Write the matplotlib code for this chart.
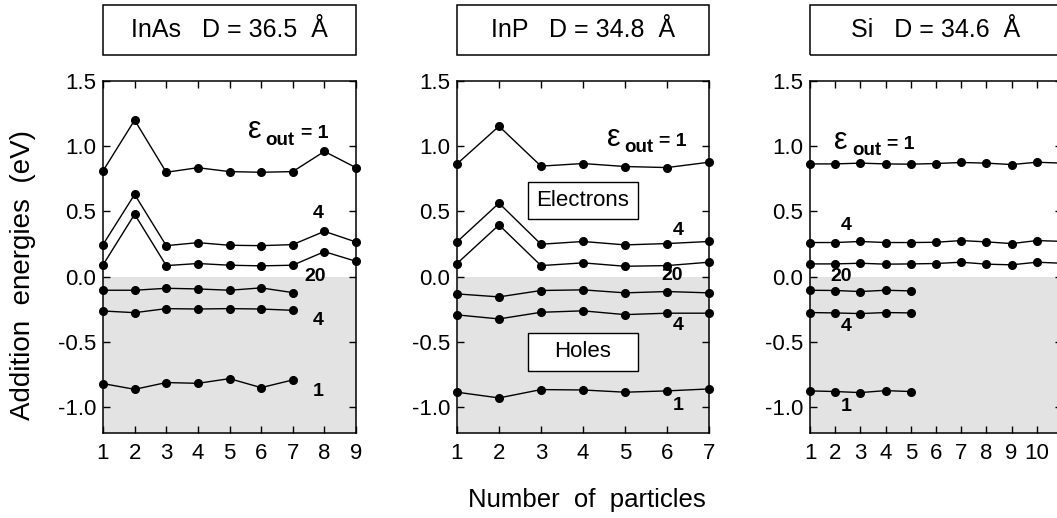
import numpy as np
import matplotlib
matplotlib.use("Agg")
import matplotlib.pyplot as plt
from matplotlib.patches import Rectangle

plt.rcParams['font.family'] = ['Liberation Sans', 'DejaVu Sans']
plt.rcParams['axes.unicode_minus'] = False

# ── data (addition energies, eV) ──────────────────────────────────────────────
inas_n_e = [1, 2, 3, 4, 5, 6, 7, 8, 9]
inas_e1 = [0.81, 1.20, 0.80, 0.835, 0.805, 0.80, 0.805, 0.96, 0.835]
inas_e4 = [0.245, 0.63, 0.237, 0.26, 0.24, 0.237, 0.245, 0.347, 0.265]
inas_e20 = [0.089, 0.478, 0.084, 0.10, 0.087, 0.082, 0.087, 0.191, 0.117]
inas_n_h = [1, 2, 3, 4, 5, 6, 7]
inas_h20 = [-0.105, -0.105, -0.09, -0.095, -0.105, -0.087, -0.123]
inas_h4 = [-0.264, -0.277, -0.246, -0.249, -0.246, -0.249, -0.259]
inas_h1 = [-0.821, -0.865, -0.813, -0.819, -0.783, -0.852, -0.793]

inp_n_e = [1, 2, 3, 4, 5, 6, 7]
inp_e1 = [0.864, 1.153, 0.847, 0.867, 0.844, 0.836, 0.877]
inp_e4 = [0.266, 0.563, 0.248, 0.269, 0.243, 0.253, 0.269]
inp_e20 = [0.10, 0.396, 0.084, 0.105, 0.079, 0.084, 0.11]
inp_n_h = [1, 2, 3, 4, 5, 6, 7]
inp_h20 = [-0.133, -0.156, -0.107, -0.102, -0.125, -0.115, -0.125]
inp_h4 = [-0.294, -0.325, -0.274, -0.263, -0.292, -0.281, -0.281]
inp_h1 = [-0.887, -0.931, -0.867, -0.870, -0.887, -0.877, -0.862]

si_n_e = [1, 2, 3, 4, 5, 6, 7, 8, 9, 10, 11]
si_e1 = [0.864, 0.864, 0.870, 0.864, 0.862, 0.867, 0.875, 0.870, 0.859, 0.877, 0.87]
si_e4 = [0.261, 0.261, 0.269, 0.261, 0.261, 0.263, 0.276, 0.266, 0.253, 0.276, 0.27]
si_e20 = [0.097, 0.097, 0.102, 0.095, 0.097, 0.100, 0.110, 0.095, 0.090, 0.110, 0.102]
si_n_h = [1, 2, 3, 4, 5]
si_h20 = [-0.105, -0.107, -0.115, -0.105, -0.110]
si_h4 = [-0.276, -0.279, -0.284, -0.276, -0.279]
si_h1 = [-0.877, -0.882, -0.890, -0.875, -0.882]

titles = ["InAs   D = 36.5  Å", "InP   D = 34.8  Å", "Si   D = 34.6  Å"]
xmax = [9, 7, 11]
yticks = [-1.0, -0.5, 0.0, 0.5, 1.0, 1.5]

# label positions (data coords): eps label, then "4", "20", "4", "1"
eps_pos = [(5.58, 1.06), (4.56, 1.0), (1.97, 0.98)]
num_labels = ["4", "20", "4", "1"]
num_pos = [
    [(7.8, 0.48), (7.7, 0.0), (7.8, -0.34), (7.8, -0.88)],
    [(6.26, 0.35), (6.13, 0.01), (6.26, -0.376), (6.26, -0.99)],
    [(2.43, 0.39), (2.24, 0.0), (2.43, -0.38), (2.43, -1.0)],
]

series = [
    (inas_n_e, [inas_e1, inas_e4, inas_e20], inas_n_h, [inas_h20, inas_h4, inas_h1]),
    (inp_n_e, [inp_e1, inp_e4, inp_e20], inp_n_h, [inp_h20, inp_h4, inp_h1]),
    (si_n_e, [si_e1, si_e4, si_e20], si_n_h, [si_h20, si_h4, si_h1]),
]

# ── figure ────────────────────────────────────────────────────────────────────
fig = plt.figure(figsize=(10.57, 5.18), dpi=100)
lefts = [103 / 1057, 457 / 1057, 810 / 1057]
widths = [253 / 1057, 252 / 1057, 252 / 1057]
bottom, height = 85 / 518, 352 / 518

for k in range(3):
    ax = fig.add_axes([lefts[k], bottom, widths[k], height])
    ax.axhspan(-1.2, 0, color='#e3e3e3', zorder=0, lw=0)
    n_e, ys_e, n_h, ys_h = series[k]
    for ys in ys_e:
        ax.plot(n_e, ys, '-o', color='black', lw=1.0, ms=5.5, clip_on=False, zorder=3)
    for ys in ys_h:
        ax.plot(n_h, ys, '-o', color='black', lw=1.0, ms=5.5, clip_on=False, zorder=3)

    ax.set_xlim(1, xmax[k])
    ax.set_ylim(-1.2, 1.5)
    ax.set_xticks(range(1, xmax[k] + 1) if k < 2 else range(1, 11))
    ax.set_yticks(yticks)
    ax.set_yticklabels([f"{v:.1f}" for v in yticks])
    ax.tick_params(direction='in', length=5, width=1, top=True, right=True,
                   labelsize=16)
    ax.tick_params(axis='x', pad=7.5)
    ax.tick_params(axis='y', pad=5)
    for sp in ax.spines.values():
        sp.set_linewidth(1.1)

    # title box above the axes
    ax.add_patch(Rectangle((0, 1.074), 1, 0.142, transform=ax.transAxes,
                           fill=False, lw=1.1, clip_on=False))
    ax.text(0.5, 1.145, titles[k], transform=ax.transAxes, ha='center',
            va='center', fontsize=18)

    # epsilon_out = 1 label
    ex, ey = eps_pos[k]
    ax.text(ex, ey, "ε", fontsize=22, ha='left', va='baseline')
    ax.annotate("out", (ex, ey), xytext=(12.5, -4.5), textcoords='offset points',
                fontsize=13.5, fontweight='bold', ha='left', va='baseline')
    ax.annotate("= 1", (ex, ey), xytext=(38, 0), textcoords='offset points',
                fontsize=14, fontweight='bold', ha='left', va='baseline')
    for lab, (lx, ly) in zip(num_labels, num_pos[k]):
        ax.text(lx, ly, lab, fontsize=14, fontweight='bold', ha='center', va='center')

    if k == 1:
        for (y0, y1), lab in [((0.442, 0.729), "Electrons"), ((-0.721, -0.432), "Holes")]:
            ax.add_patch(Rectangle((2.69, y0), 2.62, y1 - y0, facecolor='white',
                                   edgecolor='black', lw=1.0, zorder=4))
            ax.text(4.0, (y0 + y1) / 2, lab, fontsize=16, ha='center',
                    va='center', zorder=5)

fig.text(23 / 1057, 1 - 275 / 518, "Addition  energies  (eV)", rotation=90,
         ha='center', va='center', fontsize=20)
fig.text(587 / 1057, 1 - 500 / 518, "Number  of  particles", ha='center',
         va='center', fontsize=18.5)

fig.savefig("out.png", dpi=100)
